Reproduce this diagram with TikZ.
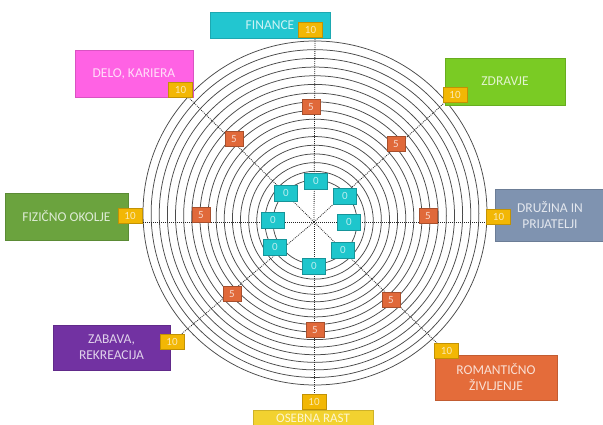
\documentclass[tikz,border=0pt]{standalone}
\usepackage{fontspec}
\setmainfont{Carlito}
\definecolor{cFin}{HTML}{22C6D0}
\definecolor{cDelo}{HTML}{FF62E4}
\definecolor{cZdr}{HTML}{7ACB24}
\definecolor{cFiz}{HTML}{6BA33E}
\definecolor{cDru}{HTML}{7F93B0}
\definecolor{cZab}{HTML}{7232A2}
\definecolor{cRom}{HTML}{E46C3A}
\definecolor{cOse}{HTML}{F2D230}
\definecolor{cTen}{HTML}{F2B705}
\definecolor{cFive}{HTML}{E0693A}
\definecolor{cZero}{HTML}{1EC6CC}
\definecolor{cRing}{HTML}{4A4A4A}
\begin{document}
\begin{tikzpicture}[x=1pt,y=-1pt,
  catbox/.style={draw=#1!85!black, fill=#1, text=white!78!#1, align=center,
    inner sep=0pt, line width=0.4pt, font=\fontsize{13.5}{16}\selectfont},
  tenbox/.style={draw=cTen!80!black, fill=cTen, text=white!70!cTen, inner sep=0pt,
    minimum width=24pt, minimum height=15pt, line width=0.4pt, font=\fontsize{11}{11}\selectfont},
  fivebox/.style={draw=cFive!75!black, fill=cFive, text=white!75!cFive, inner sep=0pt,
    minimum width=18pt, minimum height=15pt, line width=0.4pt, font=\fontsize{11}{11}\selectfont},
  zerobox/.style={draw=cZero!75!black, fill=cZero, text=white!70!cZero, inner sep=0pt,
    minimum width=23pt, minimum height=16pt, line width=0.4pt, font=\fontsize{11}{11}\selectfont},
  ring/.style={draw=cRing, line width=0.75pt},
  spoke/.style={draw=black!85, line width=0.8pt, dash pattern=on 0.9pt off 1.1pt}]
\fill[white] (0,0) rectangle (603,425);
\useasboundingbox (0,0) rectangle (603,425);
% spoke centre and ends
\coordinate (c) at (314,222);
\coordinate (eN) at (315,30);
\coordinate (eS) at (314,402);
\coordinate (eW) at (130,222);
\coordinate (eE) at (498,222);
\coordinate (eNW) at (181,90);
\coordinate (eNE) at (455,93);
\coordinate (eSW) at (172,342);
\coordinate (eSE) at (446,352);
% rings
\foreach \k in {0,...,16} {
  \pgfmathsetmacro{\rr}{172-8.125*\k}
  \pgfmathsetmacro{\cy}{222-9*(\rr-42)/130}
  \draw[ring] (315,\cy) circle[radius=\rr];
}
% spokes
\foreach \e in {eN,eS,eW,eE,eNW,eNE,eSW,eSE} \draw[spoke] (c) -- (\e);
% category boxes
\node[catbox=cFin, minimum width=120pt, minimum height=26pt] (fin) at (270,25) {FINANCE};
\node[catbox=cDelo, minimum width=118pt, minimum height=47pt] (delo) at (134,73.5) {DELO, KARIERA};
\node[catbox=cZdr, minimum width=120pt, minimum height=47pt] (zdr) at (505,81.5) {ZDRAVJE};
\node[catbox=cFiz, minimum width=123pt, minimum height=47pt] (fiz) at (66.5,216.5) {FIZIČNO OKOLJE};
\node[catbox=cDru, minimum width=110pt, minimum height=52pt] (dru) at (550,215) {DRUŽINA IN\\PRIJATELJI};
\node[catbox=cZab, minimum width=117pt, minimum height=45pt] (zab) at (111.5,347.5) {ZABAVA,\\REKREACIJA};
\node[catbox=cRom, minimum width=122pt, minimum height=45pt] (rom) at (496,377.5) {ROMANTIČNO\\ŽIVLJENJE};
\node[catbox=cOse, minimum width=120pt, minimum height=20pt, anchor=north] (ose) at (313,410) {};
\node[text=white!78!cOse, font=\fontsize{13}{15}\selectfont, inner sep=0pt, anchor=base] (oset) at (313,422) {OSEBNA RAST};
% ten boxes
\node[tenbox] (tN) at (310.5,30) {10};
\node[tenbox] (tNW) at (180.5,90) {10};
\node[tenbox] (tNE) at (455,95) {10};
\node[tenbox] (tW) at (130,216) {10};
\node[tenbox] (tE) at (498.5,217) {10};
\node[tenbox] (tSW) at (172,342) {10};
\node[tenbox] (tSE) at (446.5,351) {10};
\node[tenbox] (tS) at (314,402) {10};
% five boxes
\node[fivebox] (fN) at (311,107) {5};
\node[fivebox] (fNW) at (234,139) {5};
\node[fivebox] (fNE) at (396,144) {5};
\node[fivebox] (fW) at (201,215) {5};
\node[fivebox] (fE) at (428,216) {5};
\node[fivebox] (fSW) at (232,294) {5};
\node[fivebox] (fS) at (315,330) {5};
\node[fivebox] (fSE) at (391,300) {5};
% zero boxes
\node[zerobox] (zN) at (316,181) {0};
\node[zerobox] (zNW) at (286,193) {0};
\node[zerobox] (zNE) at (345,196) {0};
\node[zerobox] (zW) at (273,220) {0};
\node[zerobox] (zE) at (349,222) {0};
\node[zerobox] (zSW) at (275,247) {0};
\node[zerobox] (zSE) at (343,250) {0};
\node[zerobox] (zS) at (314,266) {0};
\end{tikzpicture}
\end{document}
